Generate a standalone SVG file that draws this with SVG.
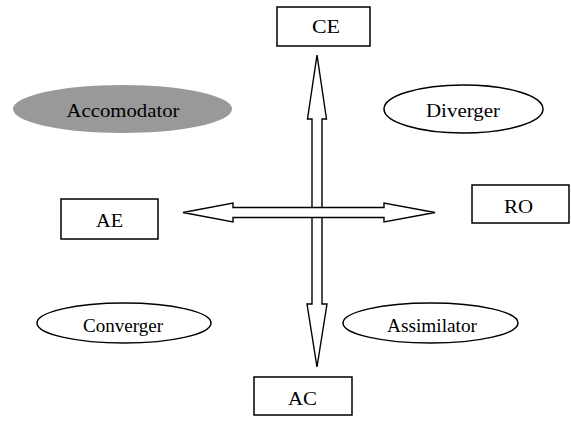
<svg xmlns="http://www.w3.org/2000/svg" width="571" height="421" viewBox="0 0 571 421">
<style>
.box{fill:#fff;stroke:#000;stroke-width:1.5}
.ell{fill:#fff;stroke:#000;stroke-width:1.5}
.arrow{fill:#fff;stroke:#000;stroke-width:1.4;stroke-linejoin:miter}
text{font-family:"Liberation Serif","Times New Roman",serif;font-size:19px;fill:#000;text-anchor:middle}
</style>
<rect width="571" height="421" fill="#fff"/>
<g id="connectors">
<polygon class="arrow" points="317,55 326.5,119 322,119 322,304 327,304 317,367 307,304 312,304 312,119 307.5,119"/>
<polygon class="arrow" points="183,212.5 233,203 233,207.5 384,207.5 384,203 435,212.5 384,222 384,217.5 233,217.5 233,222"/>
</g>
<g id="CE"><rect class="box" x="277" y="7" width="93" height="39"/><text x="326" y="33" textLength="28" lengthAdjust="spacingAndGlyphs">CE</text></g>
<g id="Accomodator"><ellipse cx="122.5" cy="109" rx="109.5" ry="24" fill="#999"/><text x="123" y="117" textLength="113" lengthAdjust="spacingAndGlyphs">Accomodator</text></g>
<g id="Diverger"><ellipse class="ell" cx="463.5" cy="109" rx="79.5" ry="24"/><text x="463" y="117" textLength="74" lengthAdjust="spacingAndGlyphs">Diverger</text></g>
<g id="AE"><rect class="box" x="61" y="199" width="97" height="40"/><text x="109.5" y="227" textLength="27" lengthAdjust="spacingAndGlyphs">AE</text></g>
<g id="RO"><rect class="box" x="472" y="185" width="97" height="38"/><text x="518.5" y="212.5" textLength="29" lengthAdjust="spacingAndGlyphs">RO</text></g>
<g id="Converger"><ellipse class="ell" cx="124" cy="323" rx="87" ry="20"/><text x="123" y="331.5" textLength="80" lengthAdjust="spacingAndGlyphs">Converger</text></g>
<g id="Assimilator"><ellipse class="ell" cx="430.5" cy="323" rx="87.5" ry="20"/><text x="432" y="331.5" textLength="90" lengthAdjust="spacingAndGlyphs">Assimilator</text></g>
<g id="AC"><rect class="box" x="254" y="377" width="98" height="38"/><text x="302.5" y="405" textLength="29" lengthAdjust="spacingAndGlyphs">AC</text></g>
</svg>
